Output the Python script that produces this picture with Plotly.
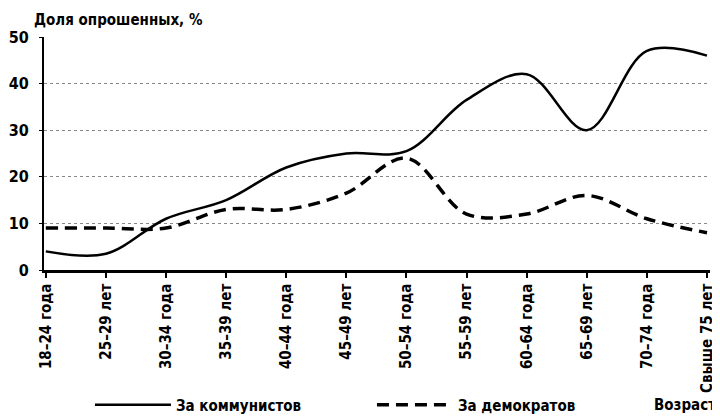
import plotly.graph_objects as go

categories = ["18–24 года", "25–29 лет", "30–34 года", "35–39 лет", "40–44 года",
              "45–49 лет", "50–54 года", "55–59 лет", "60–64 года", "65–69 лет",
              "70–74 года", "Свыше 75 лет"]
communists = [4, 3.5, 11, 15, 22, 25, 25.5, 36.5, 42, 30, 47, 46]
democrats = [9, 9, 9, 13, 13, 16.5, 24, 12, 12, 16, 11, 8]
y_ticks = [0, 10, 20, 30, 40, 50]

FONT = "DejaVu Sans Condensed, Liberation Sans, sans-serif"

fig = go.Figure()
fig.add_trace(go.Scatter(x=categories, y=communists, mode="lines", name="За коммунистов",
                         line=dict(color="black", width=2.5, shape="spline", smoothing=1)))
fig.add_trace(go.Scatter(x=categories, y=democrats, mode="lines", name="За демократов",
                         line=dict(color="black", width=3.5, shape="spline", smoothing=1,
                                   dash="12px,7px")))

fig.update_layout(
    width=720, height=416,
    margin=dict(l=36, r=18, t=29, b=154, autoexpand=False),
    paper_bgcolor="white", plot_bgcolor="white",
    font=dict(family=FONT, size=15, color="black", weight="bold"),
    showlegend=True,
    legend=dict(orientation="h", x=0.069, y=-0.579, xanchor="left", yanchor="middle",
                font=dict(size=15, weight="bold"), entrywidth=191, entrywidthmode="pixels",
                itemwidth=76, bgcolor="rgba(0,0,0,0)"),
    xaxis=dict(type="category", range=[-0.03, 11.05], showgrid=False,
               showline=True, linecolor="black", linewidth=2.5,
               ticks="outside", ticklen=5, tickwidth=1.5, tickcolor="black",
               tickangle=-90, tickfont=dict(size=15, weight="bold")),
    yaxis=dict(range=[0, 50], tickvals=y_ticks, showgrid=True,
               gridcolor="#888888", griddash="dot", gridwidth=1,
               showline=True, linecolor="black", linewidth=2,
               ticks="outside", ticklen=3, tickcolor="black",
               ticklabelstandoff=7, tickfont=dict(size=16, weight="bold"),
               zeroline=False),
    annotations=[
        dict(text="Доля опрошенных, %", xref="paper", yref="paper", x=-0.018, y=1.0,
             xanchor="left", yanchor="bottom", yshift=6, showarrow=False,
             font=dict(size=15, weight="bold")),
        dict(text="Возраст", xref="paper", yref="paper", x=1.012, y=-0.579,
             xanchor="right", yanchor="middle", showarrow=False,
             font=dict(size=15, weight="bold")),
    ],
)

fig.write_html("out.html")
